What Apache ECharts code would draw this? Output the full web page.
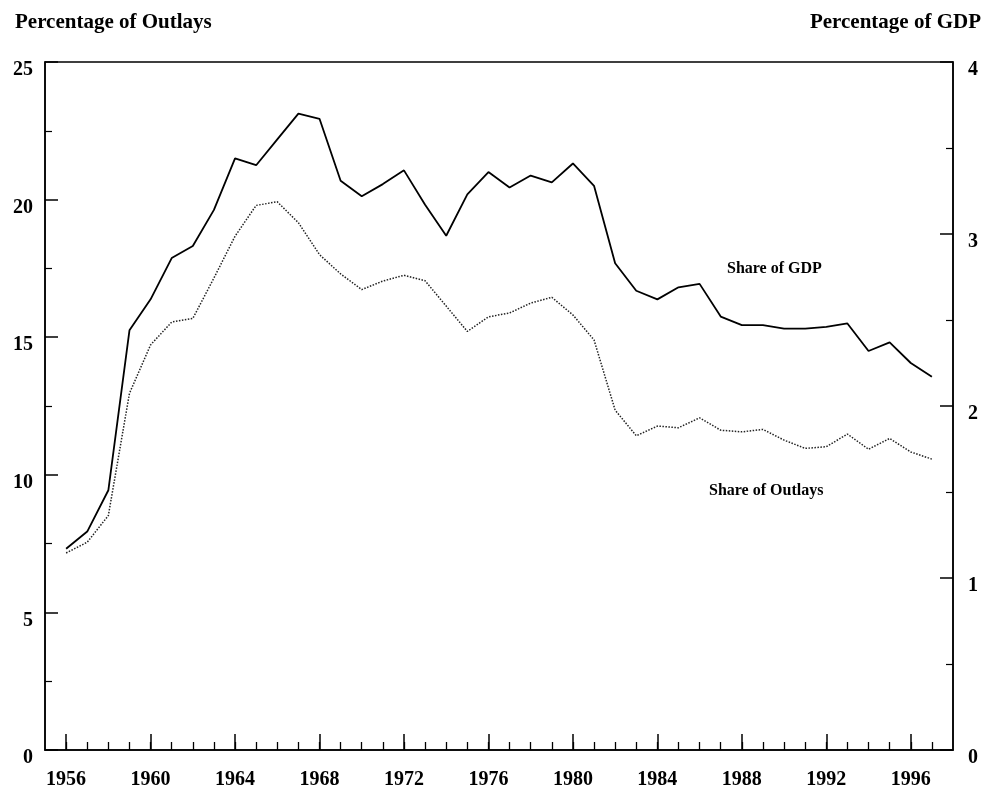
<!DOCTYPE html>
<html>
<head>
<meta charset="utf-8">
<script src="https://cdn.jsdelivr.net/npm/echarts@6/dist/echarts.min.js"></script>
<style>
  html, body { margin: 0; padding: 0; background: #fff; }
  #chart { width: 987px; height: 796px; }
</style>
</head>
<body>
<div id="chart"></div>
<script>
(function() {
  var years = [];
  for (var y = 1956; y <= 1997; y++) years.push(y);

  // share of outlays, percent (left axis)
  var outlays = [7.16, 7.55, 8.52, 12.96, 14.72, 15.55, 15.68, 17.15, 18.67, 19.79,
                 19.92, 19.16, 18.00, 17.30, 16.73, 17.04, 17.25, 17.05, 16.13, 15.21,
                 15.74, 15.88, 16.24, 16.45, 15.81, 14.90, 12.35, 11.42, 11.77, 11.71,
                 12.07, 11.62, 11.56, 11.65, 11.26, 10.96, 11.02, 11.48, 10.93, 11.32,
                 10.83, 10.57];
  // share of GDP, percent (right axis)
  var gdp = [1.17, 1.27, 1.51, 2.44, 2.62, 2.86, 2.93, 3.14, 3.44, 3.40,
             3.55, 3.70, 3.67, 3.31, 3.22, 3.29, 3.37, 3.17, 2.99, 3.23,
             3.36, 3.27, 3.34, 3.30, 3.41, 3.28, 2.83, 2.67, 2.62, 2.69,
             2.71, 2.52, 2.47, 2.47, 2.45, 2.45, 2.46, 2.48, 2.32, 2.37,
             2.25, 2.17];

  var majorYears = [1956, 1960, 1964, 1968, 1972, 1976, 1980, 1984, 1988, 1992, 1996];
  var minorYears = years;

  var outlayPairs = [], gdpPairs = [];
  for (var i = 0; i < years.length; i++) {
    outlayPairs.push([years[i], outlays[i]]);
    gdpPairs.push([years[i], gdp[i]]);
  }

  var font = "'Liberation Serif', 'DejaVu Serif', serif";
  var labelStyle = { color: '#000', fontFamily: font, fontWeight: 'bold', fontSize: 20,
                     verticalAlign: 'top', lineHeight: 16 };

  var myChart = echarts.init(document.getElementById('chart'));
  var option = {
    animation: false,
    backgroundColor: '#fff',
    title: [
      { text: 'Percentage of Outlays', left: 10, top: 7,
        textStyle: { color: '#000', fontFamily: font, fontWeight: 'bold', fontSize: 21 } },
      { text: 'Percentage of GDP', right: 1, top: 7,
        textStyle: { color: '#000', fontFamily: font, fontWeight: 'bold', fontSize: 21 } }
    ],
    grid: {
      left: 45, right: 34, top: 62, bottom: 46,
      show: true, borderColor: '#000', borderWidth: 1.5
    },
    xAxis: [
      {
        type: 'value', min: 1955, max: 1998,
        axisLine: { show: true, lineStyle: { color: '#000', width: 1.5 } },
        axisTick: { show: true, inside: true, length: 16, customValues: majorYears,
                    lineStyle: { color: '#000', width: 1.5 } },
        axisLabel: { customValues: majorYears, margin: 20,
                     formatter: function(v) { return String(v); },
                     color: '#000', fontFamily: font, fontWeight: 'bold', fontSize: 20 },
        splitLine: { show: false }
      },
      {
        type: 'value', min: 1955, max: 1998, position: 'bottom',
        axisLine: { show: false },
        axisTick: { show: true, inside: true, length: 8, customValues: minorYears,
                    lineStyle: { color: '#000', width: 1.3 } },
        axisLabel: { show: false },
        splitLine: { show: false }
      }
    ],
    yAxis: [
      {
        type: 'value', min: 0, max: 25, interval: 5, position: 'left',
        axisLine: { show: true, lineStyle: { color: '#000', width: 1.5 } },
        axisTick: { show: true, inside: true, length: 13, lineStyle: { color: '#000', width: 1.5 } },
        minorTick: { show: true, splitNumber: 2, length: 7, lineStyle: { color: '#000', width: 1.2 } },
        axisLabel: Object.assign({ margin: 12 }, labelStyle),
        splitLine: { show: false }
      },
      {
        type: 'value', min: 0, max: 4, interval: 1, position: 'right',
        axisLine: { show: true, lineStyle: { color: '#000', width: 1.5 } },
        axisTick: { show: true, inside: true, length: 13, lineStyle: { color: '#000', width: 1.5 } },
        minorTick: { show: true, splitNumber: 2, length: 7, lineStyle: { color: '#000', width: 1.2 } },
        axisLabel: Object.assign({ margin: 15 }, labelStyle),
        splitLine: { show: false }
      }
    ],
    graphic: [
      { type: 'text', left: 727, top: 261,
        style: { text: 'Share of GDP', fill: '#000', font: 'bold 16px ' + font } },
      { type: 'text', left: 709, top: 483,
        style: { text: 'Share of Outlays', fill: '#000', font: 'bold 16px ' + font } }
    ],
    series: [
      {
        name: 'Share of GDP', type: 'line', xAxisIndex: 0, yAxisIndex: 1,
        data: gdpPairs, showSymbol: false, symbol: 'none',
        lineStyle: { color: '#000', width: 1.8, type: 'solid' }
      },
      {
        name: 'Share of Outlays', type: 'line', xAxisIndex: 0, yAxisIndex: 0,
        data: outlayPairs, showSymbol: false, symbol: 'none',
        lineStyle: { color: '#222', width: 1.5, type: 'dotted' }
      }
    ]
  };
  myChart.setOption(option);
  window.addEventListener('resize', function() {
    myChart.resize();
  });
})();
</script>
</body>
</html>
